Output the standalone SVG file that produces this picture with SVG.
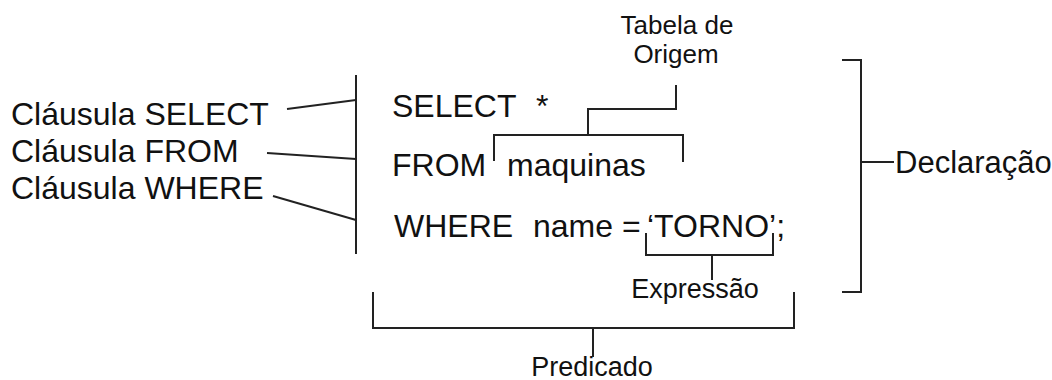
<svg xmlns="http://www.w3.org/2000/svg" width="1052" height="380" viewBox="0 0 1052 380">
<style>
text{font-family:"Liberation Sans",Arial,sans-serif;fill:#111;}
.big{font-size:32px;}
.mid{font-size:27px;}
.tab{font-size:26px;}
.decl{font-size:31px;}
.ln{stroke:#222;stroke-width:2;fill:none;}
</style>
<rect width="1052" height="380" fill="#fff"/>
<g id="lbl-select"><text class="big" x="11" y="125">Cláusula SELECT</text></g>
<g id="lbl-from"><text class="big" x="11" y="162">Cláusula FROM</text></g>
<g id="lbl-where"><text class="big" x="11" y="199">Cláusula WHERE</text></g>
<g id="sql-select"><text class="big" x="392" y="117">SELECT</text><text class="big" x="536" y="117">*</text></g>
<g id="sql-from"><text class="big" x="392" y="176">FROM</text><text class="big" x="507" y="176">maquinas</text></g>
<g id="sql-where"><text class="big" x="394" y="237">WHERE</text><text class="big" x="533" y="237">name =</text><text class="big" x="647" y="237">‘TORNO’;</text></g>
<g id="tabela"><text class="tab" text-anchor="middle"><tspan x="677" y="34">Tabela de</tspan><tspan x="676" y="63">Origem</tspan></text></g>
<g id="expressao"><text class="mid" x="695" y="298" text-anchor="middle">Expressão</text></g>
<g id="predicado"><text class="mid" x="592" y="376" text-anchor="middle">Predicado</text></g>
<g id="declaracao"><text class="decl" x="895" y="173">Declaração</text></g>
<g id="connectors">
<path class="ln" d="M356 75V254"/>
<path class="ln" d="M287 109L356 100"/>
<path class="ln" d="M267 153L356 159"/>
<path class="ln" d="M273 196L356 220"/>
<path class="ln" d="M676 85V109H588V135"/>
<path class="ln" d="M494 161V135H683V162"/>
<path class="ln" d="M646 233V255H773V233M712 255V280"/>
<path class="ln" d="M373 292V328H794V292M593 328V357"/>
<path class="ln" d="M842 60H861V292H842M861 162H894"/>
</g>
</svg>
